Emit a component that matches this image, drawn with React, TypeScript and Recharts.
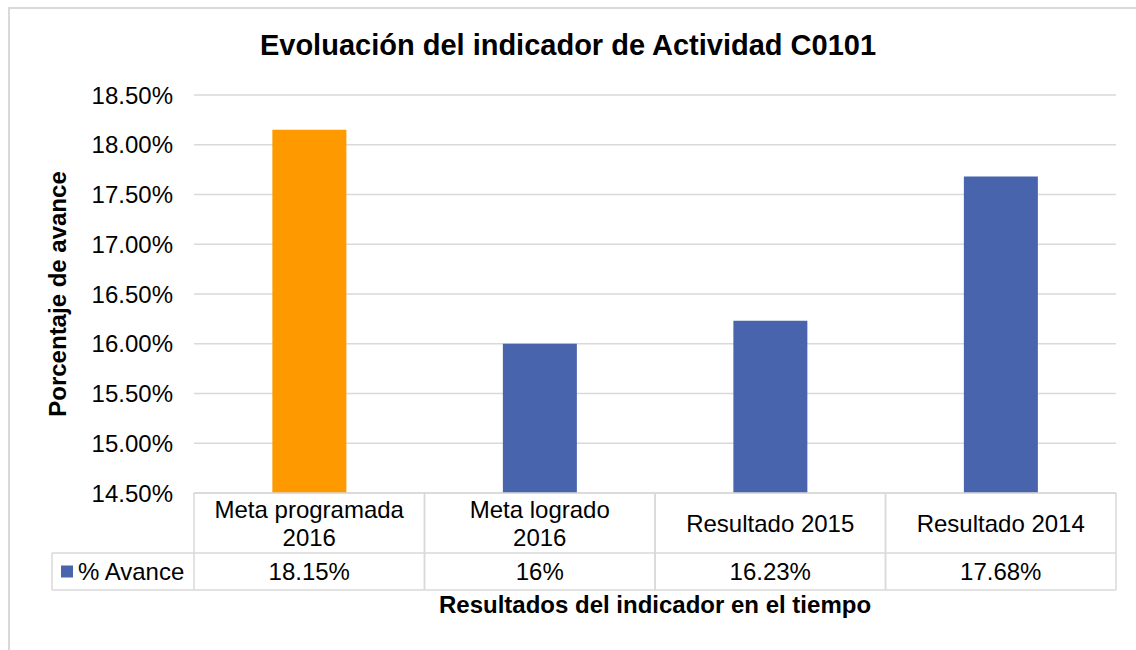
import { Bar, BarChart, CartesianGrid, Cell, Label, XAxis, YAxis } from "recharts";

const categories = ["Meta programada\n2016", "Meta logrado\n2016", "Resultado 2015", "Resultado 2014"];
const avance = [18.15, 16, 16.23, 17.68];
const avanceLabels = ["18.15%", "16%", "16.23%", "17.68%"];
const yTicks = [14.5, 15, 15.5, 16, 16.5, 17, 17.5, 18, 18.5];
const barColors = ["#ff9900", "#4864ad", "#4864ad", "#4864ad"];

const seriesName = "% Avance";
const seriesColor = "#4864ad";

const W = 1136;
const H = 650;
const MARGIN = { top: 95, right: 20, bottom: 60, left: 45 };
const Y_AXIS_W = 149;
const X_AXIS_H = 97;
const ROW1_H = 60;
const LEGEND_LEFT = 52;
const GRID = "#d9d9d9";
const FONT = "'Liberation Sans', Arial, sans-serif";

const data = categories.map((name, i) => ({ name, avance: avance[i], label: avanceLabels[i] }));

const colW = (W - MARGIN.left - Y_AXIS_W - MARGIN.right) / categories.length;

function TableTick(props: any) {
  const { x, y, payload, index } = props;
  const left = x - colW / 2;
  const right = x + colW / 2;
  const lines = String(payload.value).split("\n");
  const lh = 28;
  const midRow1 = y + ROW1_H / 2;
  const startY = midRow1 - ((lines.length - 1) * lh) / 2;
  const row2 = y + ROW1_H + (X_AXIS_H - ROW1_H) / 2;
  return (
    <g>
      <line x1={left} y1={y} x2={left} y2={y + X_AXIS_H} stroke={GRID} strokeWidth={1.5} />
      <line x1={right} y1={y} x2={right} y2={y + X_AXIS_H} stroke={GRID} strokeWidth={1.5} />
      <line x1={left} y1={y + ROW1_H} x2={right} y2={y + ROW1_H} stroke={GRID} strokeWidth={1.5} />
      <line x1={left} y1={y + X_AXIS_H} x2={right} y2={y + X_AXIS_H} stroke={GRID} strokeWidth={1.5} />
      {lines.map((t, i) => (
        <text
          key={i}
          x={x}
          y={startY + i * lh}
          textAnchor="middle"
          dominantBaseline="central"
          fontSize={24}
          fontFamily={FONT}
          fill="#000"
        >
          {t}
        </text>
      ))}
      <text x={x} y={row2} textAnchor="middle" dominantBaseline="central" fontSize={24} fontFamily={FONT} fill="#000">
        {data[index]?.label}
      </text>
      {index === 0 && (
        <g>
          <line x1={LEGEND_LEFT} y1={y + ROW1_H} x2={left} y2={y + ROW1_H} stroke={GRID} strokeWidth={1.5} />
          <line x1={LEGEND_LEFT} y1={y + X_AXIS_H} x2={left} y2={y + X_AXIS_H} stroke={GRID} strokeWidth={1.5} />
          <line x1={LEGEND_LEFT} y1={y + ROW1_H} x2={LEGEND_LEFT} y2={y + X_AXIS_H} stroke={GRID} strokeWidth={1.5} />
          <rect x={LEGEND_LEFT + 9} y={row2 - 6} width={12} height={12} fill={seriesColor} />
          <text x={LEGEND_LEFT + 26} y={row2} dominantBaseline="central" fontSize={24} fontFamily={FONT} fill="#000">
            {seriesName}
          </text>
        </g>
      )}
    </g>
  );
}

export default function App() {
  return (
    <div style={{ position: "absolute", left: 0, top: 0, width: W, height: H, background: "#fff", fontFamily: FONT }}>
      <div
        style={{
          position: "absolute",
          left: 8,
          top: 7,
          width: W,
          height: H,
          border: `2px solid ${GRID}`,
          boxSizing: "border-box",
        }}
      />
      <div
        style={{
          position: "absolute",
          left: 0,
          top: 29,
          width: W,
          textAlign: "center",
          fontSize: 29,
          fontWeight: "bold",
          color: "#000",
        }}
      >
        Evoluación del indicador de Actividad C0101
      </div>
      <div style={{ position: "absolute", left: 0, top: 0 }}>
        <BarChart width={W} height={H} data={data} margin={MARGIN} barCategoryGap="34%">
          <CartesianGrid vertical={false} stroke={GRID} strokeWidth={1.5} />
          <XAxis
            dataKey="name"
            height={X_AXIS_H}
            interval={0}
            tickSize={0}
            tickMargin={0}
            tickLine={false}
            axisLine={{ stroke: GRID, strokeWidth: 1.5 }}
            tick={<TableTick />}
          >
            <Label
              value="Resultados del indicador en el tiempo"
              position="bottom"
              offset={6}
              fontSize={24}
              fontWeight="bold"
              fontFamily={FONT}
              fill="#000"
            />
          </XAxis>
          <YAxis
            width={Y_AXIS_W}
            domain={[14.5, 18.5]}
            ticks={yTicks}
            allowDataOverflow
            axisLine={false}
            tickLine={false}
            tickMargin={15}
            tickFormatter={(v: number) => `${v.toFixed(2)}%`}
            tick={{ fontSize: 24, fill: "#000", fontFamily: FONT }}
          >
            <Label
              value="Porcentaje de avance"
              angle={-90}
              position="insideLeft"
              offset={12}
              textAnchor="middle"
              fontSize={24}
              fontWeight="bold"
              fontFamily={FONT}
              fill="#000"
            />
          </YAxis>
          <Bar dataKey="avance" isAnimationActive={false}>
            {data.map((d, i) => (
              <Cell key={d.name} fill={barColors[i]} />
            ))}
          </Bar>
        </BarChart>
      </div>
    </div>
  );
}
